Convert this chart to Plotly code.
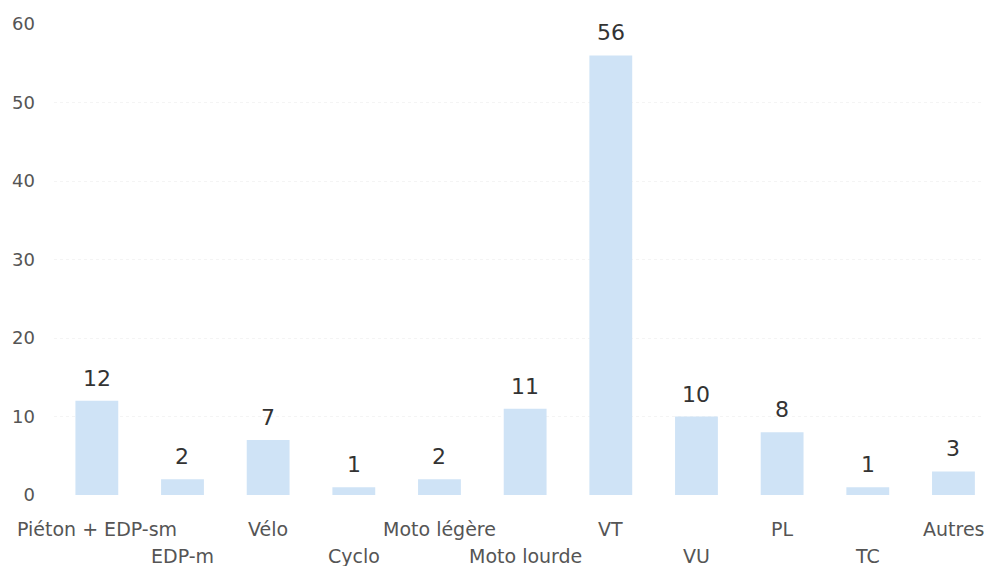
import plotly.graph_objects as go

categories = ["Piéton + EDP-sm", "EDP-m", "Vélo", "Cyclo", "Moto légère", "Moto lourde",
              "VT", "VU", "PL", "TC", "Autres"]
values = [12, 2, 7, 1, 2, 11, 56, 10, 8, 1, 3]
y_ticks = [0, 10, 20, 30, 40, 50, 60]

font_family = "'DejaVu Sans', sans-serif"

fig = go.Figure(go.Bar(
    x=list(range(len(categories))),
    y=values,
    marker=dict(color="#cfe3f6", line=dict(width=0)),
    hoverinfo="skip",
))

# value labels above the bars
for i, v in enumerate(values):
    fig.add_annotation(x=i, y=v, xref="x", yref="y", text=str(v), showarrow=False,
                       yanchor="bottom", yshift=8,
                       font=dict(family=font_family, size=22, color="#333333"))

# staggered category labels (two rows)
for i, c in enumerate(categories):
    fig.add_annotation(x=i, y=0, xref="x", yref="paper", text=c, showarrow=False,
                       yanchor="middle", yshift=-34 if i % 2 == 0 else -61,
                       font=dict(family=font_family, size=19, color="#555555"))

# page body adds an 8px offset, so the figure is sized to fit the window
fig.update_layout(
    width=984, height=558,
    margin=dict(l=46, r=0, t=16, b=71),
    paper_bgcolor="white", plot_bgcolor="white",
    bargap=0.5,
    showlegend=False,
    font=dict(family=font_family, color="#555555"),
)
fig.update_xaxes(range=[-0.5, 10.45], showticklabels=False, showgrid=False,
                 zeroline=False, showline=False, ticks="")
fig.update_yaxes(range=[0, 60], tickvals=y_ticks, showgrid=True, gridcolor="#f4f4f4",
                 griddash="dot", zeroline=False, showline=False,
                 tickfont=dict(family=font_family, size=18, color="#555555"),
                 ticklabelstandoff=18)

fig.write_html("out.html")
